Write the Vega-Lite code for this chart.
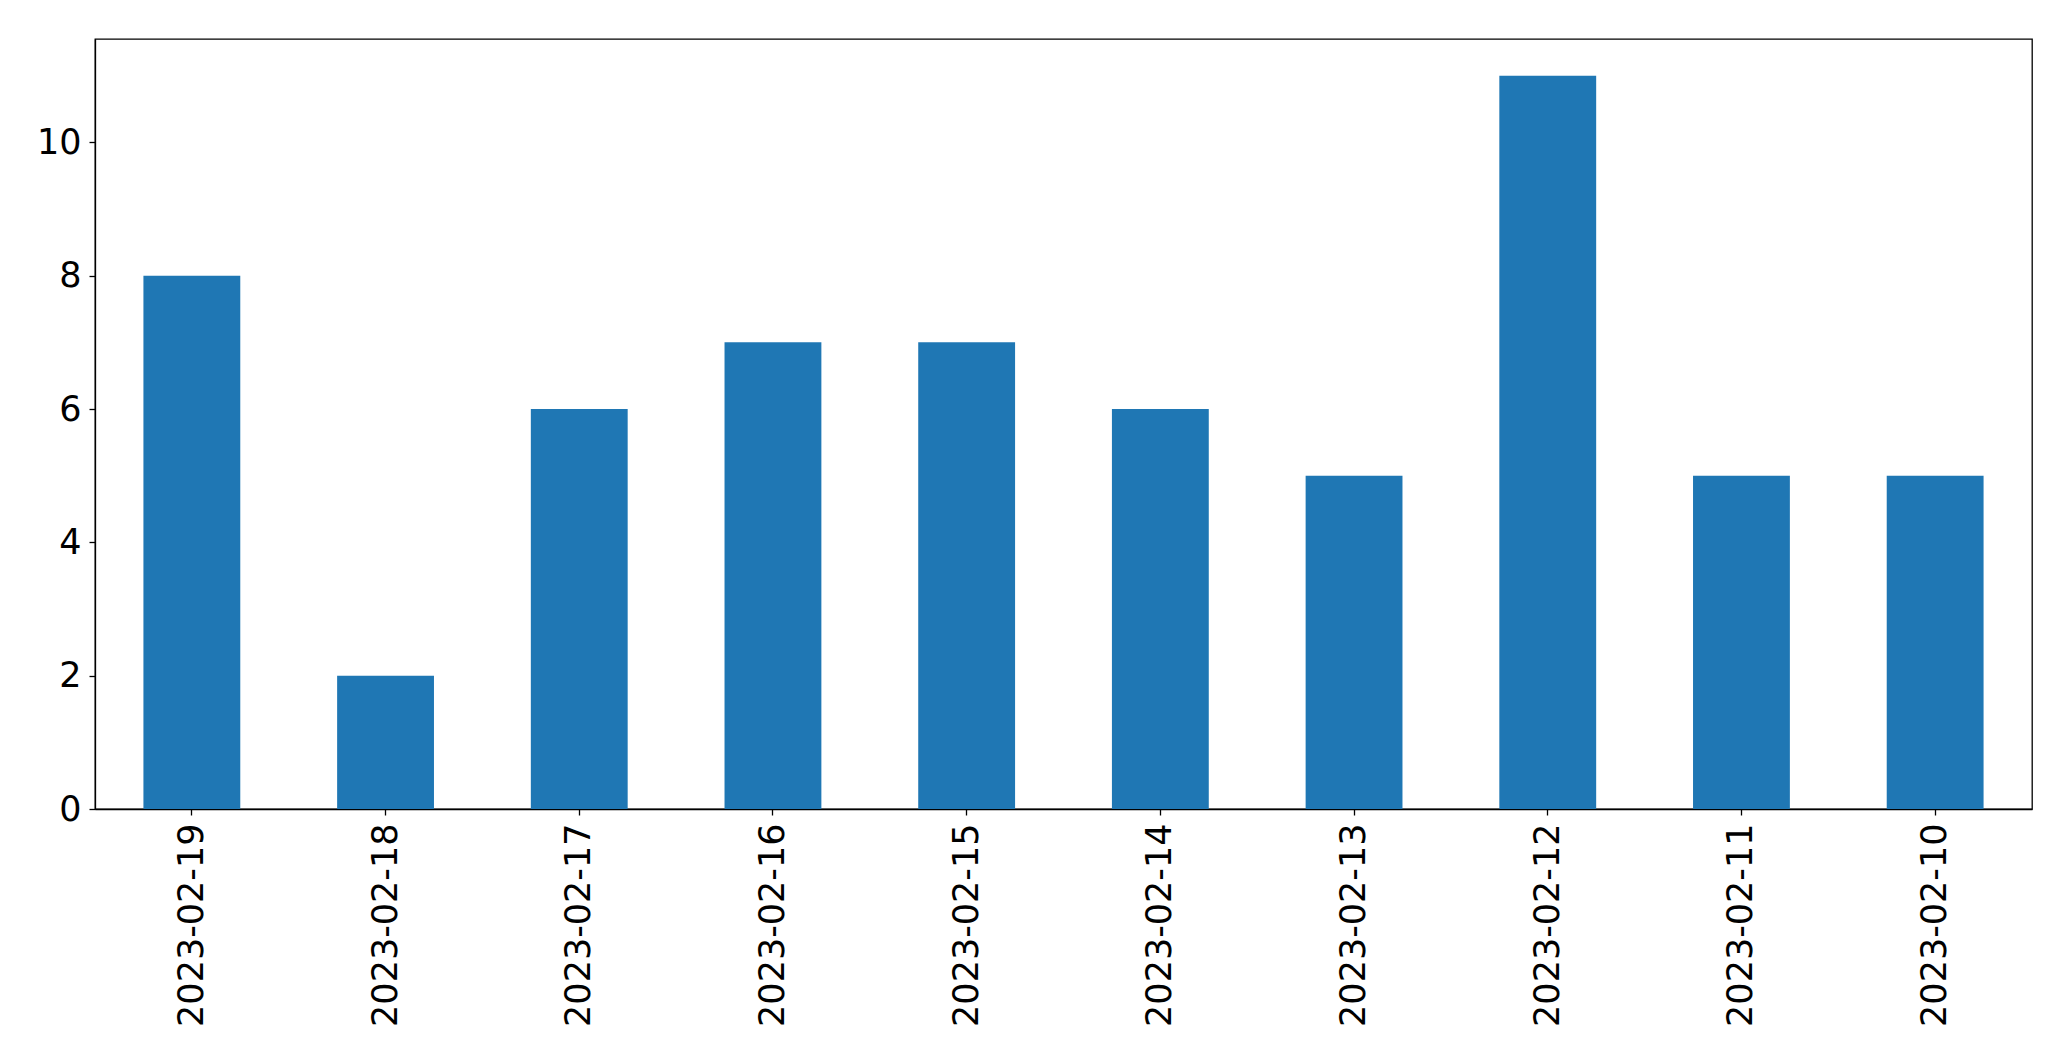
{
  "$schema": "https://vega.github.io/schema/vega-lite/v6.json",
  "width": 1937,
  "height": 770,
  "autosize": {"type": "none"},
  "padding": {"left": 95, "top": 39, "right": 39, "bottom": 252},
  "background": "white",
  "data": {"values": [
    {"date": "2023-02-19", "count": 8},
    {"date": "2023-02-18", "count": 2},
    {"date": "2023-02-17", "count": 6},
    {"date": "2023-02-16", "count": 7},
    {"date": "2023-02-15", "count": 7},
    {"date": "2023-02-14", "count": 6},
    {"date": "2023-02-13", "count": 5},
    {"date": "2023-02-12", "count": 11},
    {"date": "2023-02-11", "count": 5},
    {"date": "2023-02-10", "count": 5}
  ]},
  "mark": {"type": "bar", "color": "#1f77b4"},
  "encoding": {
    "x": {
      "field": "date", "type": "nominal", "sort": null,
      "scale": {"paddingInner": 0.5, "paddingOuter": 0.25},
      "axis": {"title": null, "labelAngle": -90, "labelPadding": 8, "tickSize": 6, "labelLimit": 0}
    },
    "y": {
      "field": "count", "type": "quantitative",
      "scale": {"domain": [0, 11.55], "nice": false, "zero": true},
      "axis": {"title": null, "values": [0, 2, 4, 6, 8, 10], "grid": false, "tickSize": 6, "labelPadding": 8}
    }
  },
  "config": {
    "view": {"stroke": "black", "strokeWidth": 1.3},
    "axis": {
      "labelFont": "DejaVu Sans",
      "labelFontSize": 35,
      "labelColor": "black",
      "labelLimit": 0,
      "domainColor": "black",
      "domainWidth": 1.3,
      "tickColor": "black",
      "tickWidth": 1.3
    }
  }
}
